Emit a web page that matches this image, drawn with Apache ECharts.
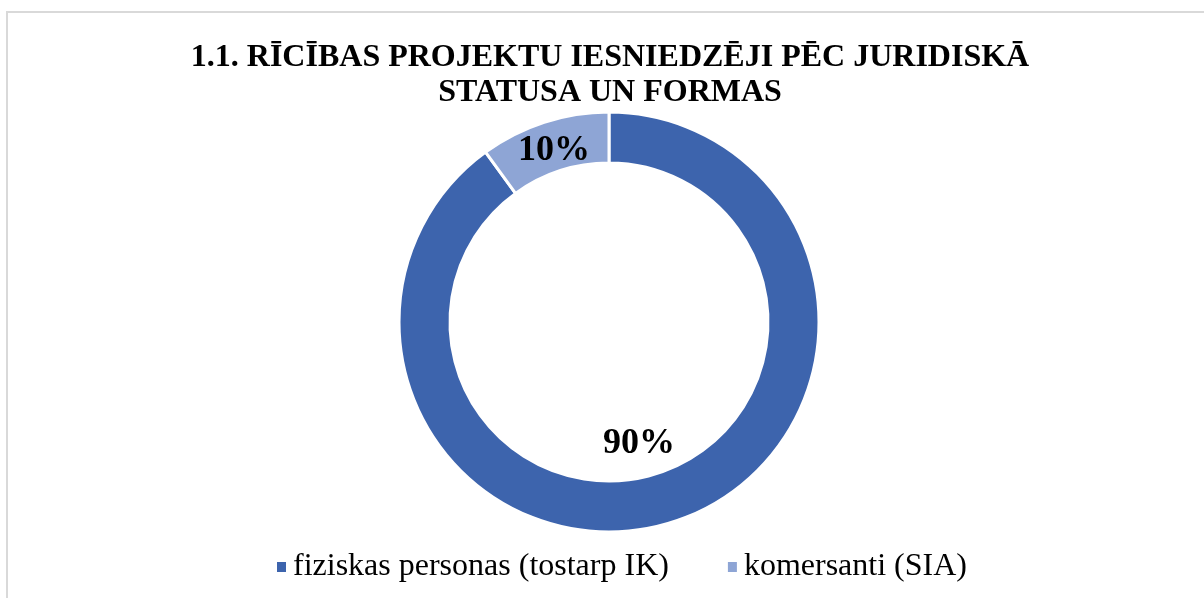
<!DOCTYPE html>
<html>
<head>
<meta charset="utf-8">
<script src="https://cdn.jsdelivr.net/npm/echarts@6/dist/echarts.min.js"></script>
<style>
  html, body { margin: 0; padding: 0; background: #ffffff; overflow: hidden; }
  #frame {
    position: absolute; left: 6px; top: 11px; width: 1400px; height: 800px;
    border: 2px solid #d9d9d9; box-sizing: border-box;
  }
  #chart { position: absolute; left: 0; top: 0; width: 1204px; height: 598px; }
</style>
</head>
<body>
<div id="frame"></div>
<div id="chart"></div>
<script>
const categories = ["fiziskas personas (tostarp IK)", "komersanti (SIA)"];
const values = [90, 10];
const colors = ["#3d64ad", "#8ea5d5"];
const titleText = "1.1. RĪCĪBAS PROJEKTU IESNIEDZĒJI PĒC JURIDISKĀ\nSTATUSA UN FORMAS";

const chart = echarts.init(document.getElementById("chart"));
const serif = "'Liberation Serif', 'Times New Roman', serif";

chart.setOption({
  backgroundColor: "transparent",
  animation: false,
  title: {
    text: titleText,
    left: 605,
    textAlign: "center",
    top: 35,
    textStyle: {
      fontFamily: serif,
      fontWeight: "bold",
      fontSize: 32,
      lineHeight: 35,
      color: "#000000"
    }
  },
  legend: {
    data: categories,
    left: 270,
    top: 546,
    icon: "rect",
    itemWidth: 11,
    itemHeight: 12,
    itemGap: 57,
    textStyle: {
      fontFamily: serif,
      fontSize: 32,
      lineHeight: 32,
      color: "#000000",
      padding: [0, 0, 0, 1]
    }
  },
  series: [
    {
      type: "pie",
      center: [609, 322],
      radius: [159, 210],
      startAngle: 90,
      clockwise: true,
      itemStyle: { borderColor: "#ffffff", borderWidth: 3 },
      label: {
        show: true,
        position: "inside",
        formatter: "{d}%",
        fontFamily: serif,
        fontWeight: "bold",
        fontSize: 36,
        color: "#000000"
      },
      labelLine: { show: false },
      labelLayout: (p) => (p.dataIndex === 0 ? { dx: -28, dy: -57 } : { dx: 3, dy: 7 }),
      emphasis: { disabled: true },
      data: categories.map((name, i) => ({
        name,
        value: values[i],
        itemStyle: { color: colors[i] }
      }))
    }
  ]
});
</script>
</body>
</html>
